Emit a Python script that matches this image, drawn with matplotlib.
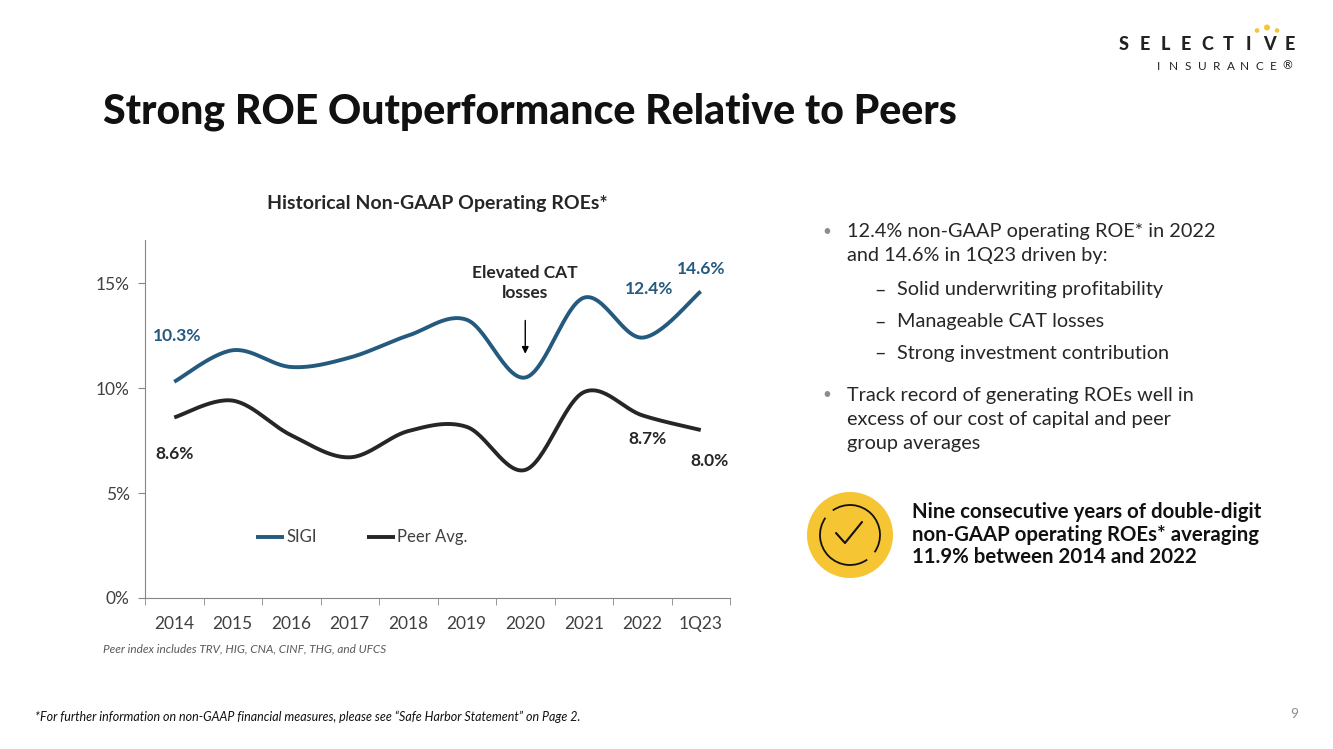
import numpy as np
import matplotlib
matplotlib.use("Agg")
from matplotlib import pyplot as plt
from matplotlib.patches import Circle, Arc

plt.rcParams['font.family'] = ['Lato', 'DejaVu Sans']

# data
years = ["2014", "2015", "2016", "2017", "2018", "2019", "2020", "2021", "2022", "1Q23"]
sigi = [10.3, 11.8, 11.0, 11.45, 12.5, 13.25, 10.5, 14.3, 12.4, 14.6]
peer = [8.6, 9.4, 7.75, 6.7, 7.95, 8.15, 6.1, 9.8, 8.7, 8.0]
yticks = [0, 5, 10, 15]

blue = "#245a7e"
dark = "#262626"
txt = "#262626"


def smooth(x, y, n=30):
    # excel style smoothed line: bezier segments from catmull-rom
    x = np.asarray(x, float)
    y = np.asarray(y, float)
    p = np.column_stack([x, y])
    pp = np.vstack([p[0], p, p[-1]])
    out = []
    t = np.linspace(0, 1, n)[:, None]
    for i in range(len(p) - 1):
        p0, p1, p2, p3 = pp[i], pp[i + 1], pp[i + 2], pp[i + 3]
        c1 = p1 + (p2 - p0) / 6
        c2 = p2 - (p3 - p1) / 6
        seg = ((1 - t) ** 3) * p1 + 3 * ((1 - t) ** 2) * t * c1 + 3 * (1 - t) * t ** 2 * c2 + t ** 3 * p2
        out.append(seg if i == 0 else seg[1:])
    out = np.vstack(out)
    return out[:, 0], out[:, 1]


fig = plt.figure(figsize=(13.33, 7.49), dpi=100)

# background overlay in pixel coords
bg = fig.add_axes([0, 0, 1, 1])
bg.set_xlim(0, 1333)
bg.set_ylim(749, 0)
bg.axis('off')

ax = fig.add_axes([145 / 1333, 151 / 749, 585 / 1333, 358 / 749])
xs = np.arange(len(years))
sx, sy = smooth(xs, sigi)
px, py = smooth(xs, peer)
ax.plot(sx, sy, color=blue, lw=2.8, solid_capstyle='butt', label="SIGI")
ax.plot(px, py, color=dark, lw=2.8, solid_capstyle='butt', label="Peer Avg.")
ax.set_xlim(-0.5, len(years) - 0.5)
ax.set_ylim(0, 17.05)
ax.set_yticks(yticks)
ax.set_yticklabels([f"{v}%" for v in yticks], fontsize=12.5, color="#404040")
ax.set_xticks(xs)
ax.set_xticklabels(years, fontsize=12.5, color="#404040")
ax.set_xticks(np.arange(-0.5, len(years), 1), minor=True)
ax.tick_params(axis='x', which='major', length=0, pad=13)
ax.tick_params(axis='x', which='minor', length=5, color="#868686", direction='out')
ax.tick_params(axis='y', length=5, color="#868686", direction='out', pad=6)
for s in ['top', 'right']:
    ax.spines[s].set_visible(False)
for s in ['left', 'bottom']:
    ax.spines[s].set_color("#868686")
    ax.spines[s].set_linewidth(0.8)
ax.set_title("Historical Non-GAAP Operating ROEs*", fontsize=14, fontweight='bold', color=txt, pad=22)
leg = ax.legend(loc='lower center', bbox_to_anchor=(0.37, 0.105), ncol=2, frameon=False,
                fontsize=12, handlelength=1.7, handletextpad=0.1, columnspacing=3.0)
for t in leg.get_texts():
    t.set_color("#404040")

# data labels
lab = dict(fontsize=12.5, fontweight='bold', ha='center', va='center')
ax.annotate(f"{sigi[0]}%", (xs[0], sigi[0]), xytext=(2, 33), textcoords='offset points', color=blue, **lab)
ax.annotate(f"{sigi[8]}%", (xs[8], sigi[8]), xytext=(5, 35), textcoords='offset points', color=blue, **lab)
ax.annotate(f"{sigi[9]}%", (xs[9], sigi[9]), xytext=(0, 16), textcoords='offset points', color=blue, **lab)
ax.annotate(f"{peer[0]}%", (xs[0], peer[0]), xytext=(0, -26), textcoords='offset points', color=dark, **lab)
ax.annotate(f"{peer[8]}%", (xs[8], peer[8]), xytext=(4, -17), textcoords='offset points', color=dark, **lab)
ax.annotate(f"{peer[9]}%", (xs[9], peer[9]), xytext=(6, -22), textcoords='offset points', color=dark, **lab)

ax.annotate("", xy=(6, 11.5), xytext=(6, 13.35),
            arrowprops=dict(arrowstyle='-|>', color='black', lw=1.0, mutation_scale=10))
ax.text(6, 15.0, "Elevated CAT\nlosses", ha='center', va='center', fontsize=12.5,
        fontweight='bold', color=txt, linespacing=1.25)

# title and logo
bg.text(103, 112, "Strong ROE Outperformance Relative to Peers", fontsize=29.5, fontweight='black',
        color="#111111", va='center', ha='left')
for i, ch in enumerate("SELECTIVE"):
    bg.text(1124 + i * 20.75, 45, ch, fontsize=13, fontweight='black', color="#222222",
            ha='center', va='center')
for i, ch in enumerate("INSURANCE®"):
    bg.text(1159 + i * 14.3, 66, ch, fontsize=8.5, color="#222222", ha='center', va='center')
for cx, cy, r in [(1257, 30.5, 2.3), (1267, 27.5, 3.0), (1277, 30.5, 2.3)]:
    bg.add_patch(Circle((cx, cy), r, color="#f5c533", lw=0))

# bullets
body = dict(fontsize=14.3, color=txt, va='center', ha='left')
bg.text(822, 232, "•", fontsize=11, color="#8c8c8c", va='center')
bg.text(847, 232, "12.4% non-GAAP operating ROE* in 2022", **body)
bg.text(847, 256, "and 14.6% in 1Q23 driven by:", **body)
for yy, s in [(290, "Solid underwriting profitability"), (322, "Manageable CAT losses"),
              (353, "Strong investment contribution")]:
    bg.text(874, yy, "–", **body)
    bg.text(897, yy, s, **body)
bg.text(822, 395, "•", fontsize=11, color="#8c8c8c", va='center')
bg.text(847, 395, "Track record of generating ROEs well in", **body)
bg.text(847, 419, "excess of our cost of capital and peer", **body)
bg.text(847, 443, "group averages", **body)

# check badge
bg.add_patch(Circle((850, 535), 43, color="#f5c533", lw=0))
bg.add_patch(Arc((850, 535), 60, 60, theta1=55, theta2=215, color="#111111", lw=1.3))
bg.add_patch(Arc((850, 535), 60, 60, theta1=235, theta2=35, color="#111111", lw=1.3))
bg.plot([836, 845, 862], [533, 543, 522], color="#111111", lw=1.5, solid_capstyle='round')
bold = dict(fontsize=14.7, fontweight='bold', color="#111111", va='center', ha='left')
bg.text(912, 512, "Nine consecutive years of double-digit", **bold)
bg.text(912, 535, "non-GAAP operating ROEs* averaging", **bold)
bg.text(912, 557, "11.9% between 2014 and 2022", **bold)

# footnotes
bg.text(103, 649, "Peer index includes TRV, HIG, CNA, CINF, THG, and UFCS", fontsize=8.5,
        style='italic', color="#595959", va='center')
bg.text(35, 717, "*For further information on non-GAAP financial measures, please see \u201cSafe Harbor Statement\u201d on Page 2.",
        fontsize=9, style='italic', color="#111111", va='center')
bg.text(1298, 714, "9", fontsize=10, color="#8c8c8c", ha='right', va='center')

fig.savefig("out.png", dpi=100)
